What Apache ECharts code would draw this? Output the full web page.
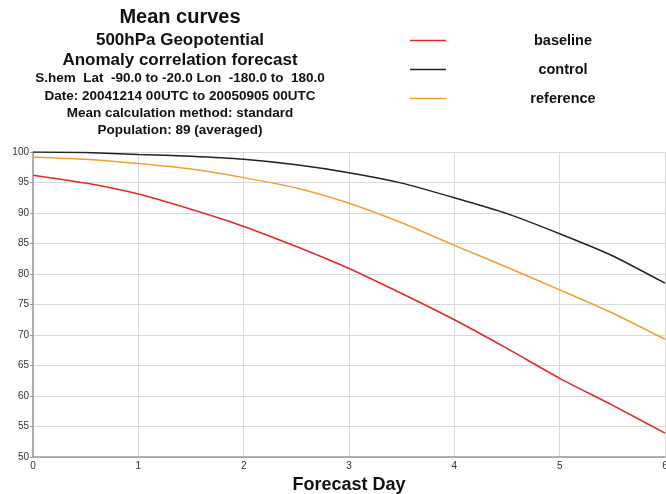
<!DOCTYPE html>
<html><head><meta charset="utf-8">
<script src="https://cdn.jsdelivr.net/npm/echarts@6/dist/echarts.min.js"></script>
<style>html,body{margin:0;padding:0;background:#fff}#c{width:666px;height:494px}</style>
</head><body><div id="c"></div>
<script>
const days = [0, 0.5, 1, 1.5, 2, 2.5, 3, 3.5, 4, 4.5, 5, 5.5, 6];
const baseline = [96.2, 94.9, 93.1, 90.6, 87.8, 84.5, 80.9, 76.8, 72.5, 67.8, 62.9, 58.5, 53.9];
const control = [100.0, 99.9, 99.6, 99.3, 98.8, 97.9, 96.6, 94.9, 92.5, 89.9, 86.6, 83.0, 78.5];
const reference = [99.2, 98.8, 98.1, 97.2, 95.8, 94.1, 91.6, 88.4, 84.7, 81.1, 77.4, 73.6, 69.3];
const titleLines = ["Mean curves", "500hPa Geopotential", "Anomaly correlation forecast",
  "S.hem  Lat  -90.0 to -20.0 Lon  -180.0 to  180.0", "Date: 20041214 00UTC to 20050905 00UTC",
  "Mean calculation method: standard", "Population: 89 (averaged)"];

const pair = arr => days.map((d, i) => [d, arr[i]]);
const font = "'Liberation Sans', Arial, sans-serif";
const chart = echarts.init(document.getElementById('c'), null, {renderer: 'canvas'});
const tY = [17, 40, 60, 78, 96, 113, 130];
const tSize = [20, 17, 17, 13.5, 13.5, 13.5, 13.5];
chart.setOption({
  animation: false,
  textStyle: {fontFamily: font},
  graphic: titleLines.map((t, i) => ({
    type: 'text', x: 180, y: tY[i],
    style: {text: t, textAlign: 'center', textVerticalAlign: 'middle',
      font: `bold ${tSize[i]}px ${font}`, fill: '#111'}
  })),
  legend: {
    orient: 'vertical', left: 405, top: 28, itemWidth: 36, itemHeight: 18,
    icon: 'path://M0,9L36,9L36,10.5L0,10.5Z',
    formatter: n => '{a|' + n + '}',
    textStyle: {fontSize: 14, fontWeight: 'bold', color: '#111', fontFamily: font,
      rich: {a: {width: 224, height: 18, align: 'center', fontSize: 14.5, fontWeight: 'bold', color: '#111', fontFamily: font}}},
    itemGap: 14,
    data: ['baseline', 'control', 'reference']
  },
  grid: {left: 33, right: 1, top: 152, bottom: 37, outerBoundsMode: 'none', containLabel: false},
  xAxis: {
    type: 'value', min: 0, max: 6, interval: 1,
    name: 'Forecast Day', nameLocation: 'middle', nameGap: 13,
    nameTextStyle: {fontSize: 18, fontWeight: 'bold', color: '#111', fontFamily: font, padding: [0, 0, 6, 0]},
    axisLine: {lineStyle: {color: '#999', width: 1.5}},
    axisTick: {show: false},
    axisLabel: {fontSize: 10, color: '#333', margin: 4},
    splitLine: {lineStyle: {color: '#d8d8d8'}}
  },
  yAxis: {
    type: 'value', min: 50, max: 100, interval: 5,
    axisLine: {show: true, lineStyle: {color: '#999', width: 1.5}},
    axisTick: {show: true, length: 3, lineStyle: {color: '#999'}},
    axisLabel: {fontSize: 10, color: '#333', margin: 4},
    splitLine: {lineStyle: {color: '#d8d8d8'}}
  },
  series: [
    {name: 'baseline', type: 'line', data: pair(baseline), smooth: 0.2, showSymbol: false,
      color: '#e8262a', lineStyle: {width: 1.5}},
    {name: 'control', type: 'line', data: pair(control), smooth: 0.2, showSymbol: false,
      color: '#222222', lineStyle: {width: 1.5}},
    {name: 'reference', type: 'line', data: pair(reference), smooth: 0.2, showSymbol: false,
      color: '#f0a030', lineStyle: {width: 1.5}}
  ]
});
</script></body></html>
